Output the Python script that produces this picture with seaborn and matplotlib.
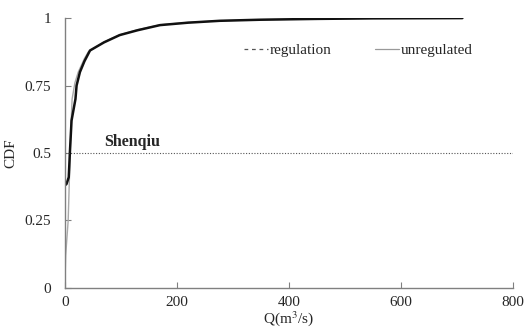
import pandas as pd
import seaborn as sns
import matplotlib.pyplot as plt
from matplotlib.lines import Line2D

# Data
q_reg = [0, 3, 7, 9, 12, 19, 21, 27, 35, 45, 70, 98, 130, 170, 220, 277, 350, 450, 550, 710]
cdf_reg = [0.38, 0.385, 0.41, 0.50, 0.62, 0.70, 0.75, 0.80, 0.84, 0.88, 0.91, 0.937, 0.955, 0.974,
           0.983, 0.99, 0.994, 0.997, 0.999, 1.0]

q_unreg = [0, 1.5, 6, 9.5, 11, 13, 18, 24, 35, 42, 70, 98, 130, 170, 220, 277, 350, 450, 550, 710]
cdf_unreg = [0.0, 0.12, 0.25, 0.50, 0.60, 0.70, 0.76, 0.80, 0.85, 0.875, 0.912, 0.938, 0.957, 0.975,
             0.984, 0.99, 0.994, 0.997, 0.999, 1.0]

ytick_vals = [0, 0.25, 0.5, 0.75, 1]
ytick_labels = ['0', '0.25', '0.5', '0.75', '1']
xtick_vals = [0, 200, 400, 600, 800]

df_reg = pd.DataFrame({'Q': q_reg, 'CDF': cdf_reg})
df_unreg = pd.DataFrame({'Q': q_unreg, 'CDF': cdf_unreg})

sns.set_style('ticks')
plt.rcParams['font.family'] = ['Liberation Serif', 'DejaVu Serif']
plt.rcParams['mathtext.fontset'] = 'stix'

fig = plt.figure(figsize=(5.27, 3.29), dpi=100)
ax = fig.add_axes([0.123, 0.125, 0.85, 0.82])

sns.lineplot(data=df_unreg, x='Q', y='CDF', ax=ax, color='#a8a8a8', linewidth=1.0)
sns.lineplot(data=df_reg, x='Q', y='CDF', ax=ax, color='#111111', linewidth=1.8)

# median reference line
ax.axhline(0.5, color='#555555', linewidth=0.8, linestyle=(0, (1, 1.5)))
ax.text(70, 0.525, 'Shenqiu', fontsize=11.5, fontweight='bold')

ax.set_xlim(0, 800)
ax.set_ylim(0, 1)
ax.set_xticks(xtick_vals)
ax.set_yticks(ytick_vals)
ax.set_yticklabels(ytick_labels)
ax.tick_params(axis='both', direction='in', length=4, color='#808080', labelsize=11)
ax.tick_params(axis='y', pad=10)
ax.tick_params(axis='x', pad=6)

for s in ['top', 'right']:
    ax.spines[s].set_visible(False)
for s in ['left', 'bottom']:
    ax.spines[s].set_color('#808080')
    ax.spines[s].set_linewidth(1.0)

ax.set_xlabel('Q(m$^3$/s)', fontsize=11, labelpad=0)
ax.set_ylabel('CDF', fontsize=11, labelpad=5)

handles = [Line2D([], [], color='#555555', linestyle=(0, (3, 3)), linewidth=0.9),
           Line2D([], [], color='#999999', linestyle='-', linewidth=0.9)]
ax.legend(handles, ['regulation', 'unregulated'], ncol=2, frameon=False, fontsize=11,
          loc='center', bbox_to_anchor=(0.655, 0.88), handlelength=1.6, handletextpad=0.1,
          columnspacing=2.8)

fig.savefig('out.png', dpi=100)
